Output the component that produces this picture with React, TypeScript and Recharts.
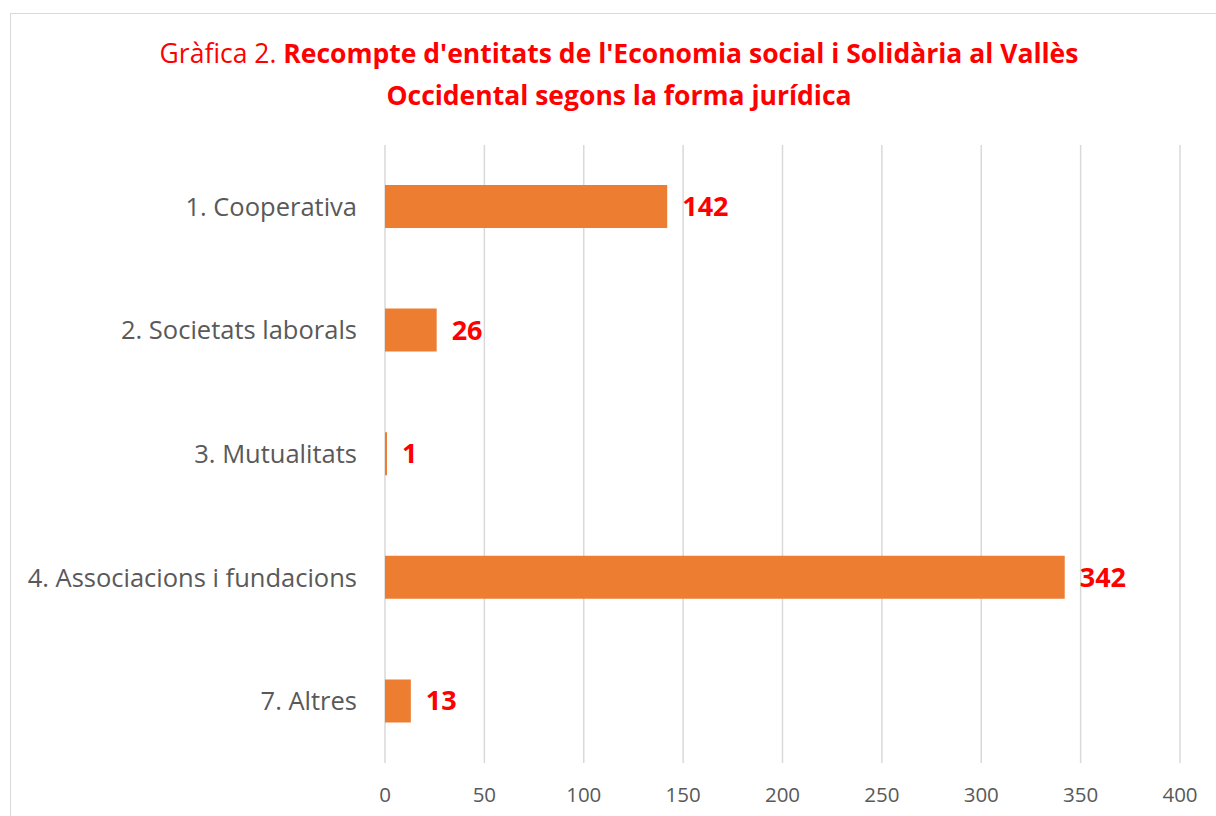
import React from 'react'
import { BarChart, Bar, XAxis, YAxis, CartesianGrid, LabelList } from 'recharts'

const categories = [
  '1. Cooperativa',
  '2. Societats laborals',
  '3. Mutualitats',
  '4. Associacions i fundacions',
  '7. Altres',
]
const counts = [142, 26, 1, 342, 13]
const xTicks = [0, 50, 100, 150, 200, 250, 300, 350, 400]

const data = categories.map((name, i) => ({ name, value: counts[i] }))

const FONT = '"Open Sans", sans-serif'

export default function App() {
  return (
    <div
      style={{
        position: 'absolute',
        left: 0,
        top: 0,
        width: 1216,
        height: 816,
        background: '#fff',
        overflow: 'hidden',
        fontFamily: FONT,
      }}
    >
      <div
        style={{
          position: 'absolute',
          left: 10,
          top: 13,
          width: 1230,
          height: 830,
          border: '1px solid #d9d9d9',
        }}
      />
      <div
        style={{
          position: 'absolute',
          left: 0,
          top: 32,
          width: 1238,
          textAlign: 'center',
          color: '#ff0000',
          fontSize: 26.5,
          lineHeight: '42px',
        }}
      >
        Gràfica 2. <b>Recompte d'entitats de l'Economia social i Solidària al Vallès</b>
        <br />
        <b>Occidental segons la forma jurídica</b>
      </div>
      <div style={{ position: 'absolute', left: 0, top: 0 }}>
        <BarChart
          width={1216}
          height={816}
          data={data}
          layout="vertical"
          margin={{ top: 145, right: 36, bottom: 0, left: 10 }}
        >
          <CartesianGrid horizontal={false} stroke="#d9d9d9" strokeWidth={1.5} />
          <XAxis
            type="number"
            domain={[0, 400]}
            ticks={xTicks}
            axisLine={false}
            tickLine={false}
            tickSize={0}
            tickMargin={24}
            height={53}
            tick={{ fill: '#595959', fontSize: 20.5, fontFamily: FONT }}
          />
          <YAxis
            type="category"
            dataKey="name"
            width={375}
            axisLine={false}
            tickLine={false}
            tickSize={0}
            tickMargin={28}
            tick={{ fill: '#595959', fontSize: 25.5, fontFamily: FONT }}
          />
          <Bar dataKey="value" fill="#ed7d31" barSize={43} isAnimationActive={false}>
            <LabelList
              dataKey="value"
              position="right"
              offset={15}
              fill="#ff0000"
              fontSize={27}
              fontWeight="bold"
              fontFamily={FONT}
            />
          </Bar>
        </BarChart>
      </div>
    </div>
  )
}
